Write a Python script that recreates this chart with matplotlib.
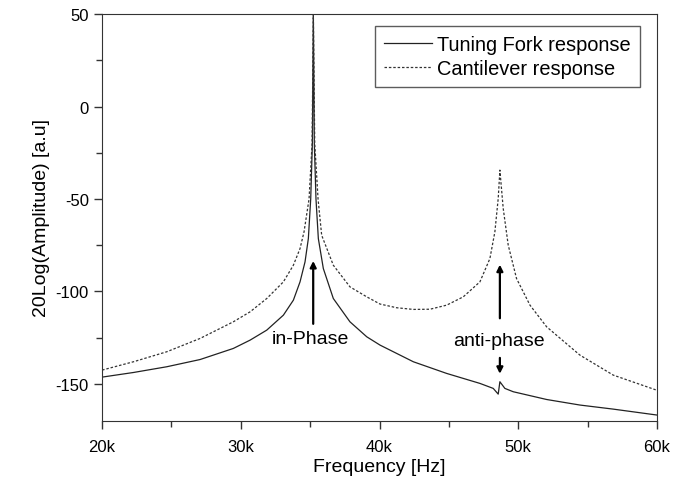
import matplotlib
matplotlib.use("Agg")
import matplotlib.pyplot as plt
from matplotlib.ticker import FuncFormatter, MultipleLocator

plt.rcParams["font.family"] = ["Liberation Sans", "DejaVu Sans"]
plt.rcParams["axes.unicode_minus"] = False

# values (frequency in kHz, level in dB)
fork_freq = [20.0, 22.26, 24.66, 27.06, 29.46, 30.67, 31.87, 33.07, 33.79, 34.27,
             34.63, 34.87, 35.04, 35.16, 35.23, 35.30, 35.42, 35.59, 35.95, 36.67,
             37.87, 39.08, 40.04, 42.44, 44.84, 47.24, 48.20, 48.56, 48.68, 49.04,
             49.64, 52.05, 54.45, 56.85, 60.0]
fork_db = [-146.3, -143.8, -140.7, -136.8, -130.8, -126.3, -120.9, -112.8, -104.7, -94.8,
           -84, -71.4, -50, -20, 50, -20, -50, -71.4, -87.6, -103.8,
           -116.4, -124.5, -129, -138, -144.3, -149.7, -152.4, -155.5, -148.8, -152.4,
           -154.2, -158.4, -161.4, -163.6, -166.8]

cant_freq = [20.0, 22.26, 24.66, 27.06, 29.46, 30.67, 31.87, 33.07, 33.79, 34.27,
             34.56, 34.92, 35.14, 35.23, 35.33, 35.57, 35.83, 36.67, 37.87, 39.08,
             40.04, 41.24, 42.44, 43.64, 44.84, 46.04, 47.24, 47.96, 48.32, 48.56,
             48.68, 48.92, 49.28, 49.88, 50.85, 52.05, 54.45, 56.85, 60.0]
cant_db = [-142.5, -138, -132.6, -125.4, -116.4, -111, -103.8, -94.8, -85.8, -76.8,
           -67.7, -50, -20, 50, -20, -50, -69.6, -85.8, -97.5, -102.9,
           -106.8, -108.8, -109.7, -109.6, -107.4, -102.9, -94.8, -82.2, -67.7, -49.7,
           -34.4, -55.1, -74.9, -93, -107.4, -119.1, -134.4, -145.2, -153.4]

fig = plt.figure(figsize=(6.9, 4.85), dpi=100)
ax = fig.add_axes([0.148, 0.130, 0.804, 0.839])

ax.plot([f * 1000 for f in fork_freq], fork_db, color="#222222", lw=0.9,
        label="Tuning Fork response")
ax.plot([f * 1000 for f in cant_freq], cant_db, color="#333333", lw=0.9,
        linestyle=(0, (2, 1.5)), label="Cantilever response")

ax.set_xlim(20000, 60000)
ax.set_ylim(-170, 50)
ax.xaxis.set_major_locator(MultipleLocator(10000))
ax.xaxis.set_minor_locator(MultipleLocator(5000))
ax.yaxis.set_major_locator(MultipleLocator(50))
ax.yaxis.set_minor_locator(MultipleLocator(25))
ax.xaxis.set_major_formatter(FuncFormatter(lambda v, p: f"{int(v / 1000)}k"))

ax.tick_params(which="both", direction="out", top=False, right=False,
               labelsize=12, color="#333333")
ax.tick_params(which="major", length=6, width=1)
ax.tick_params(which="minor", length=4, width=1)
ax.tick_params(axis="x", pad=7)
for s in ax.spines.values():
    s.set_color("#333333")

ax.set_xlabel("Frequency [Hz]", fontsize=14, labelpad=3)
ax.set_ylabel("20Log(Amplitude) [a.u]", fontsize=14, labelpad=4)

arrow = dict(arrowstyle="-|>", color="black", lw=1.6, mutation_scale=9)
ax.annotate("", xy=(35220, -82), xytext=(35220, -119), arrowprops=arrow)
ax.text(35040, -125.4, "in-Phase", fontsize=14, ha="center", va="center")
ax.annotate("", xy=(48680, -84), xytext=(48680, -116), arrowprops=arrow)
ax.text(48630, -126.3, "anti-phase", fontsize=14, ha="center", va="center")
ax.annotate("", xy=(48680, -146), xytext=(48680, -134.4), arrowprops=arrow)

leg = ax.legend(loc="upper right", fontsize=14.4, frameon=True, fancybox=False,
                handlelength=2.4, handletextpad=0.25, borderpad=0.45,
                labelspacing=0.25, borderaxespad=0,
                bbox_to_anchor=(0.969, 0.97))
leg.get_frame().set_edgecolor("#333333")
leg.get_frame().set_linewidth(1)

fig.savefig("out.png", dpi=100)
